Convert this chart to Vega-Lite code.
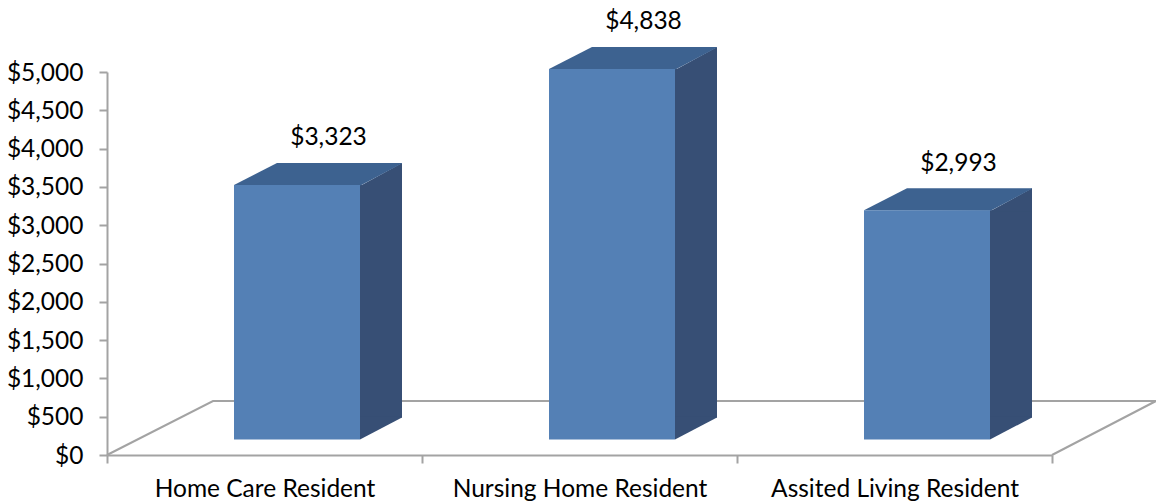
{
  "$schema": "https://vega.github.io/schema/vega-lite/v6.json",
  "width": 945,
  "height": 383,
  "autosize": {"type": "none"},
  "padding": {"left": 107, "top": 72, "right": 104, "bottom": 47},
  "background": "white",
  "config": {"view": {"stroke": null}, "font": "Lato"},
  "data": {"values": [
    {"group": "Home Care Resident", "cost": 3323},
    {"group": "Nursing Home Resident", "cost": 4838},
    {"group": "Assited Living Resident", "cost": 2993}
  ]},
  "encoding": {
    "x": {"field": "group", "type": "nominal", "title": null,
      "sort": ["Home Care Resident", "Nursing Home Resident", "Assited Living Resident"],
      "scale": {"domain": ["Home Care Resident", "Nursing Home Resident", "Assited Living Resident"], "paddingInner": 0, "paddingOuter": 0},
      "axis": {"labelAngle": 0, "labelFontSize": 24.5, "labelColor": "#000000", "labelPadding": 14.5, "labelLimit": 400, "tickBand": "extent", "tickSize": 8, "tickWidth": 2, "tickColor": "#a3a3a3", "domainColor": "#a3a3a3", "domainWidth": 2, "grid": false}},
    "y": {"field": "cost", "type": "quantitative", "title": null,
      "scale": {"domain": [0, 5000], "nice": false},
      "axis": {"values": [0,500,1000,1500,2000,2500,3000,3500,4000,4500,5000], "format": "$,.0f", "labelFontSize": 24.5, "labelColor": "#000000", "labelPadding": 16, "labelOffset": 1, "tickSize": 8, "tickWidth": 2, "tickColor": "#a3a3a3", "domainColor": "#a3a3a3", "domainWidth": 2, "grid": false}}
  },
  "layer": [
    {
      "transform": [{"filter": "datum.group === 'Nursing Home Resident'"}],
      "mark": {"type": "point", "filled": false, "opacity": 1, "stroke": "#a3a3a3", "strokeWidth": 2, "size": 4, "shape": "M-472.5,0L-366.5,-54L576.5,-54L472.5,0", "clip": false},
      "encoding": {"y": {"datum": 0}}
    },
    {
      "mark": {"type": "bar", "size": 42, "xOffset": 116.5, "yOffset": -15.5, "y2Offset": -37.5, "fill": "#374f75"},
      "encoding": {"y": {"field": "cost", "type": "quantitative", "stack": null}, "y2": {"datum": 0}}
    },
    {
      "mark": {"type": "point", "filled": true, "opacity": 1, "fill": "#374f75", "strokeWidth": 0, "size": 4, "xOffset": 32.5, "yOffset": -15.5, "shape": "M63,1L105,-22L105,1Z"}
    },
    {
      "mark": {"type": "point", "filled": true, "opacity": 1, "fill": "#374f75", "strokeWidth": 0, "size": 4, "xOffset": 32.5, "yOffset": -15.5, "shape": "M63,0L105,-22L105,-23L63,-23Z"},
      "encoding": {"y": {"datum": 0}}
    },
    {
      "mark": {"type": "point", "filled": true, "opacity": 1, "fill": "#3d6290", "strokeWidth": 0, "size": 4, "xOffset": 32.5, "yOffset": -15.5, "shape": "M-63,0L-20,-22L105,-22L105,-21.5L63.5,0.5L63,0.5Z"}
    },
    {
      "mark": {"type": "bar", "size": 126, "xOffset": 32.5, "yOffset": -15.5, "y2Offset": -15.5, "color": "#5480b5"},
      "encoding": {"y": {"field": "cost", "type": "quantitative", "stack": null}, "y2": {"datum": 0}}
    },
    {
      "mark": {"type": "text", "fontSize": 24.5, "color": "#000000", "dx": 64, "dy": -62, "baseline": "middle"},
      "encoding": {"text": {"field": "cost", "type": "quantitative", "format": "$,.0f"}}
    }
  ]
}
